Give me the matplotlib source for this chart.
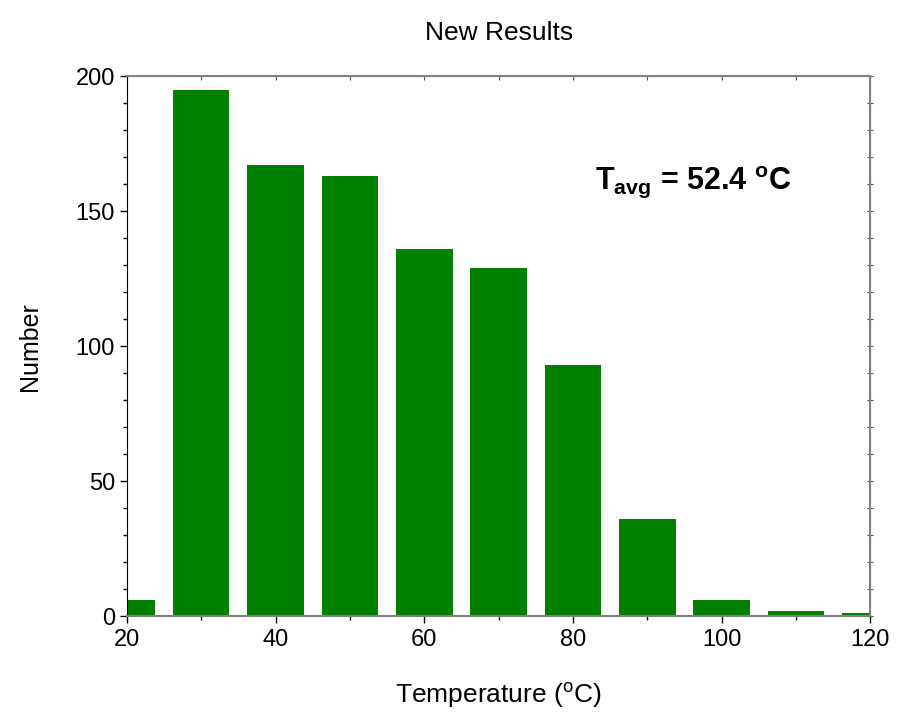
import matplotlib
matplotlib.use('Agg')
import matplotlib.pyplot as plt
import numpy as np

plt.rcParams['font.family'] = ['Liberation Sans', 'DejaVu Sans']
plt.rcParams['mathtext.fontset'] = 'custom'
plt.rcParams['mathtext.rm'] = 'Liberation Sans'
plt.rcParams['mathtext.bf'] = 'Liberation Sans:bold'
plt.rcParams['mathtext.it'] = 'Liberation Sans:italic'

# Histogram data
bin_centers = [20, 30, 40, 50, 60, 70, 80, 90, 100, 110, 120]
counts = [6, 195, 167, 163, 136, 129, 93, 36, 6, 2, 1]
x_ticks = [20, 40, 60, 80, 100, 120]
y_ticks = [0, 50, 100, 150, 200]

fig = plt.figure(figsize=(9, 7.13), dpi=100)
ax = fig.add_axes([0.141, 0.136, 0.826, 0.757])

ax.bar(bin_centers, counts, width=7.6, color='#008000', linewidth=0)

ax.set_xlim(20, 120)
ax.set_ylim(0, 200)
ax.set_xticks(x_ticks)
ax.set_yticks(y_ticks)
ax.set_xticks(np.arange(20, 121, 10), minor=True)
ax.set_yticks(np.arange(0, 201, 10), minor=True)
ax.tick_params(which='major', direction='out', length=5, width=1,
               labelsize=17, color='black')
ax.tick_params(which='minor', direction='out', length=3, width=1,
               color='black')
ax.tick_params(axis='x', pad=4)

ax.spines['left'].set_color('black')
for side in ['top', 'right', 'bottom']:
    ax.spines[side].set_color('#808080')
    ax.spines[side].set_linewidth(1.5)

# Inward ticks on the top and right frame
top = ax.secondary_xaxis('top')
top.set_xticks(np.arange(20, 121, 10))
top.tick_params(direction='in', length=3, color='#555555', labeltop=False)
top.spines['top'].set_color('#808080')
right = ax.secondary_yaxis('right')
right.set_yticks(np.arange(0, 201, 10))
right.tick_params(direction='inout', length=4, color='#555555', labelright=False)
right.spines['right'].set_color('#808080')

ax.set_title('New Results', fontsize=19, pad=26)
ax.set_xlabel(r'Temperature ($^{\mathrm{o}}$C)', fontsize=19, labelpad=22)
ax.set_ylabel('Number', fontsize=18, labelpad=24)

ax.text(0.63, 0.805, r'$\mathbf{T_{avg}}$' + ' = 52.4 ' + r'$^{\mathbf{o}}$' + 'C',
        transform=ax.transAxes, fontsize=22, fontweight='bold',
        ha='left', va='center')

fig.savefig('out.png', dpi=100)
